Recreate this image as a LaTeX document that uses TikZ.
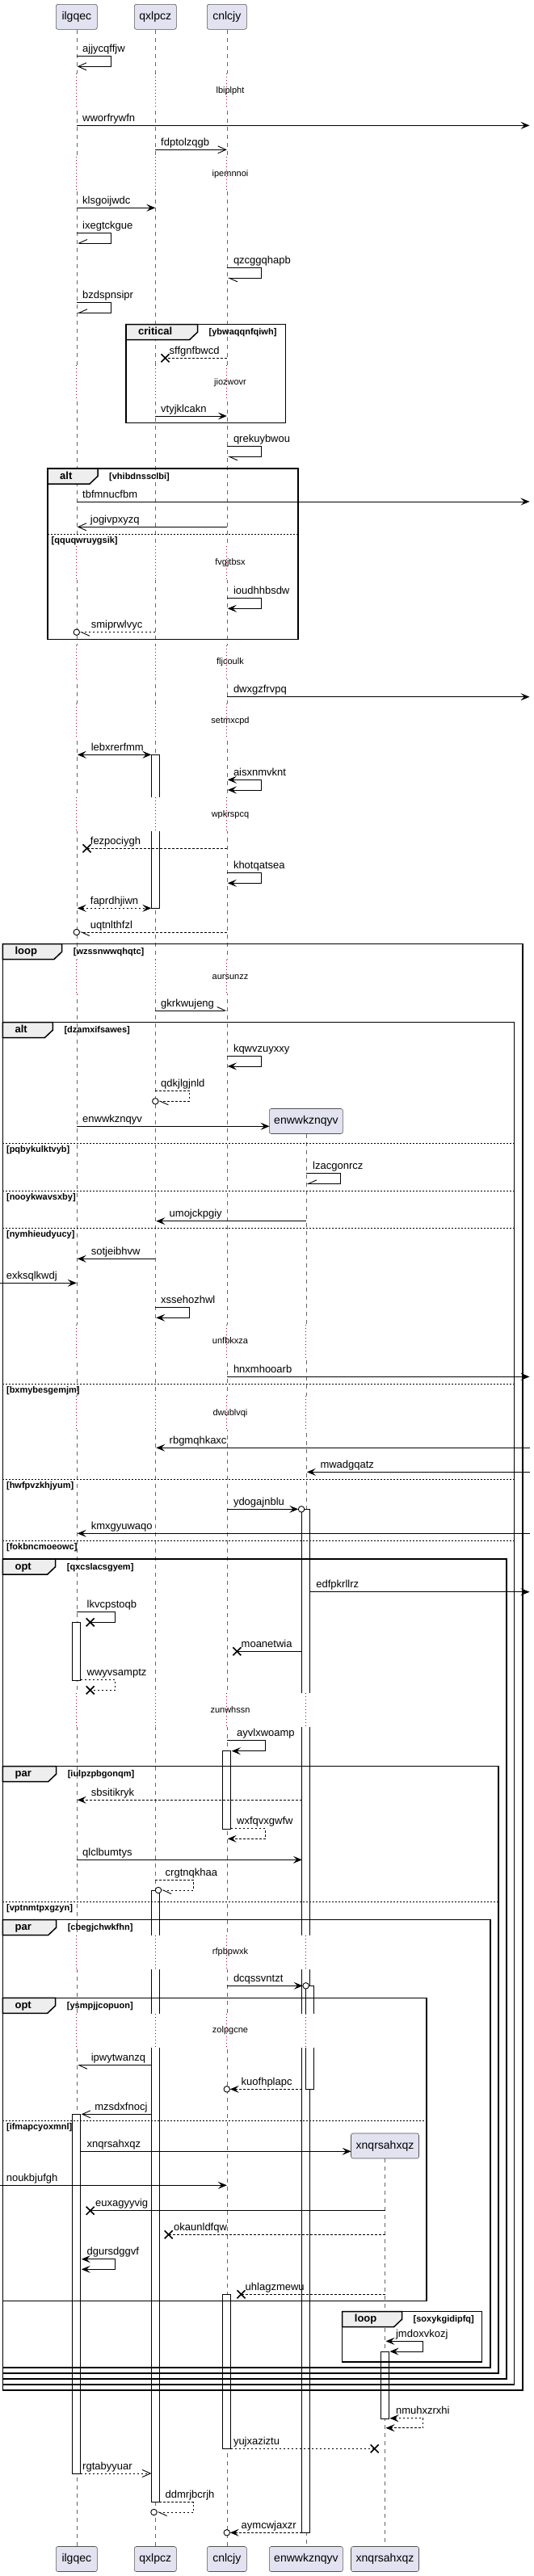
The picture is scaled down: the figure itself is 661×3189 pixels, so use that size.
\documentclass[tikz,border=0pt]{standalone}
\usepackage{fontspec}
\setmainfont{Liberation Sans}
\usetikzlibrary{arrows.meta}
\definecolor{partfill}{HTML}{E2E2F0}
\definecolor{partline}{HTML}{181818}
\definecolor{tabfill}{HTML}{EEEEEE}
\definecolor{delayc}{HTML}{A80036}
\tikzset{
  fh/.tip={Stealth[length=11pt,width=9pt,inset=4.5pt]},
  oh/.tip={Straight Barb[length=10pt,width=9pt]},
  hu/.tip={Straight Barb[length=10pt,width=9pt,harpoon]},
  hs/.tip={Straight Barb[length=10pt,width=9pt,harpoon,swap]},
  msgl/.style={draw=black,line width=0.9pt},
  dmsg/.style={msgl,dash pattern=on 2.5pt off 2.5pt},
  lifel/.style={draw=black!60,line width=0.6pt,dash pattern=on 5pt off 5pt},
  dotl/.style={draw=delayc,line width=1pt,dash pattern=on 1pt off 3pt},
  actbox/.style={draw=black,line width=0.9pt,fill=white},
  partbox/.style={draw=partline!75,line width=0.6pt,fill=partfill,rounded corners=2.5pt,inner sep=0pt,font=\fontsize{14}{16}\selectfont,minimum height=31pt},
  mlbl/.style={anchor=base west,inner sep=0pt,font=\fontsize{13}{15}\selectfont},
  dlbl/.style={inner sep=0pt,font=\fontsize{11}{13}\selectfont,text height=8pt,text depth=2.5pt},
  frm/.style={draw=black,line width=1.5pt},
  glbl/.style={anchor=west,inner sep=0pt,font=\bfseries\fontsize{11}{13}\selectfont,text height=8pt,text depth=2.5pt},
  tlbl/.style={anchor=west,inner sep=0pt,font=\bfseries\fontsize{13}{15}\selectfont,text height=9.5pt,text depth=3pt},
  xm/.style={line width=1.6pt},
  endcirc/.style={circle,draw=black,line width=0.9pt,fill=white,minimum size=7.5pt,inner sep=0pt},
  sepline/.style={draw=black,line width=0.8pt,dash pattern=on 2pt off 2pt},
}
\def\XA{94.8}
\def\XB{192.3}
\def\XC{280.8}
\def\XD{378.9}
\def\XE{476.5}
% message: name, x1, x2, y, style, label x, text
\newcommand\SqMsg[7]{%
  \coordinate (#1-s) at (#2,#4);
  \coordinate (#1-e) at (#3,#4);
  \draw[#5] (#1-s) -- (#1-e);
  \node[mlbl] (#1-l) at (#6,#4-5) {#7};
}
% self message: name, x1, xr, y1, y2, x2, style, label x, text
\newcommand\SqSelf[9]{%
  \coordinate (#1-s) at (#2,#4);
  \coordinate (#1-e) at (#6,#5);
  \draw[#7] (#1-s) -- (#3,#4) -- (#3,#5) -- (#1-e);
  \node[mlbl] (#1-l) at (#8,#4-5) {#9};
}
\newcommand\SqX[3]{%
  \coordinate (#1) at (#2,#3);
  \draw[xm] ([shift={(-5,-5)}]#1) -- ([shift={(5,5)}]#1) ([shift={(-5,5)}]#1) -- ([shift={(5,-5)}]#1);
}
% lost message: name, x1, xX, y, style, label x, text
\newcommand\SqLost[7]{%
  \coordinate (#1-s) at (#2,#4);
  \SqX{#1-x}{#3}{#4}
  \draw[#5] (#1-s) -- (#1-x);
  \node[mlbl] (#1-l) at (#6,#4-5) {#7};
}
% frame: name, x0, y0, x1, y1, tab end, label, guard
\newcommand\SqFrame[8]{%
  \draw[frm] (#2,#3) rectangle (#4,#5);
  \draw[frm,fill=tabfill] (#2,#3) -- (#6,#3) -- (#6,#3+9.5) -- (#6-10,#3+19) -- (#2,#3+19) -- cycle;
  \node[tlbl] (#1-t) at (#2+15,#3+10) {#7};
  \node[glbl] (#1-g) at (#6+14,#3+10.5) {#8};
}
\newcommand\SqSep[5]{%
  \draw[sepline] (#2,#4) -- (#3,#4);
  \node[glbl] (#1) at (#2+4.5,#4+8.3) {#5};
}
\newcommand\SqDelay[4]{%
  \foreach \lx in {#4}{%
    \fill[white] (\lx-13,#2-21) rectangle (\lx+13,#2+21);
    \draw[dotl] (\lx,#2-21) -- (\lx,#2+21);
  }
  \node[dlbl] (#1) at (285,#2) {#3};
}
\begin{document}
\begin{tikzpicture}[x=1pt,y=-1pt]
\useasboundingbox (0,0) rectangle (661,3189);
\fill[white] (0,0) rectangle (661,3189);
% participants
\node[partbox,minimum width=51pt] (top-a) at (\XA,20.8) {ilgqec};
\node[partbox,minimum width=52pt] (top-b) at (\XB,20.8) {qxlpcz};
\node[partbox,minimum width=49pt] (top-c) at (\XC,20.8) {cnlcjy};
\node[partbox,minimum width=51pt] (bot-a) at (\XA,3168) {ilgqec};
\node[partbox,minimum width=52pt] (bot-b) at (\XB,3168) {qxlpcz};
\node[partbox,minimum width=49pt] (bot-c) at (\XC,3168) {cnlcjy};
\node[partbox,minimum width=91pt] (bot-d) at (\XD,3168) {enwwkznqyv};
\node[partbox,minimum width=84pt] (bot-e) at (\XE,3168) {xnqrsahxqz};
\node[partbox,minimum width=91pt] (cr-d) at (\XD,1388) {enwwkznqyv};
\node[partbox,minimum width=84pt] (cr-e) at (\XE,2656.5) {xnqrsahxqz};
% lifelines
\draw[lifel] (top-a.south) -- (bot-a.north);
\draw[lifel] (top-b.south) -- (bot-b.north);
\draw[lifel] (top-c.south) -- (bot-c.north);
\draw[lifel] (cr-d.south) -- (bot-d.north);
\draw[lifel] (cr-e.south) -- (bot-e.north);
% activations
\draw[actbox] (\XB-5,934.3) rectangle (\XB+5,1124.3);
\draw[actbox] (\XD-5,1868.3) rectangle (\XD+5,3135.3);
\draw[actbox] (\XA-5,2008.3) rectangle (\XA+5,2080.3);
\draw[actbox] (\XC-5,2167.7) rectangle (\XC+5,2264.3);
\draw[actbox] (\XB-5,2340) rectangle (\XB+5,3097.7);
\draw[actbox] (\XD,2458.3) rectangle (\XD+10,2586.3);
\draw[actbox] (\XA-5,2617.3) rectangle (\XA+5,3062);
\draw[actbox] (\XC-5,2840.3) rectangle (\XC+5,3031.3);
\draw[actbox] (\XE-5,2911) rectangle (\XE+5,2994.3);
% delays
\SqDelay{d1}{112.3}{lbiplpht}{\XA,\XB,\XC}
\SqDelay{d2}{215.3}{ipemnnoi}{\XA,\XB,\XC}
\SqDelay{d3}{473.3}{jiozwovr}{\XA,\XB,\XC}
\SqDelay{d4}{697}{fvgjtbsx}{\XA,\XB,\XC}
\SqDelay{d5}{820}{fljcoulk}{\XA,\XB,\XC}
\SqDelay{d6}{892.3}{setmxcpd}{\XA,\XB,\XC}
\SqDelay{d7}{1008.3}{wpkrspcq}{\XA,\XB,\XC}
\SqDelay{d8}{1209.3}{aursunzz}{\XA,\XB,\XC}
\SqDelay{d9}{1661}{unfbkxza}{\XA,\XB,\XC,\XD}
\SqDelay{d10}{1749.3}{dwublvqi}{\XA,\XB,\XC,\XD}
\SqDelay{d11}{2117.3}{zunwhssn}{\XA,\XB,\XC,\XD}
\SqDelay{d12}{2416.7}{rfpbpwxk}{\XA,\XB,\XC,\XD}
\SqDelay{d13}{2514}{zolpgcne}{\XA,\XB,\XC,\XD}
% frames
\SqFrame{f1}{156}{401.7}{353.3}{523.3}{244.5}{critical}{[ybwaqqnfqiwh]}
\SqFrame{f2}{59}{580}{368.9}{791.7}{121}{alt}{[vhibdnssclbi]}
\SqSep{s1}{59}{368.9}{661}{[qquqwruygsik]}
\SqFrame{f3}{3.4}{1168.7}{647.1}{2959}{76.7}{loop}{[wzssnwwqhqtc]}
\SqFrame{f4}{3.4}{1265.7}{636.6}{2952}{65.3}{alt}{[dzamxifsawes]}
\SqSep{s2}{3.4}{636.6}{1415}{[pqbykulktvyb]}
\SqSep{s3}{3.4}{636.6}{1474.3}{[nooykwavsxby]}
\SqSep{s4}{3.4}{636.6}{1520.3}{[nymhieudyucy]}
\SqSep{s5}{3.4}{636.6}{1713.3}{[bxmybesgemjm]}
\SqSep{s6}{3.4}{636.6}{1831}{[hwfpvzkhjyum]}
\SqSep{s7}{3.4}{636.6}{1907.3}{[fokbncmoeowc]}
\SqFrame{f5}{3.4}{1930}{626.9}{2945}{68.7}{opt}{[qxcslacsgyem]}
\SqFrame{f6}{3.4}{2186.7}{616.8}{2938}{69.6}{par}{[iulpzpbgonqm]}
\SqSep{s8}{3.4}{616.8}{2354}{[vptnmtpxgzyn]}
\SqFrame{f7}{3.4}{2376.7}{607}{2931}{69.6}{par}{[cbegjchwkfhn]}
\SqFrame{f8}{3.4}{2473.3}{528.2}{2848.3}{68.7}{opt}{[ysmpjjcopuon]}
\SqSep{s9}{3.4}{528.2}{2625.7}{[ifmapcyoxmnl]}
\SqFrame{f9}{423.7}{2861.7}{596.5}{2924}{497.5}{loop}{[soxykgidipfq]}
% messages
\SqSelf{m1}{\XA}{137.4}{69.3}{82.3}{\XA+1}{msgl,-oh}{102}{ajjycqffjw}
\SqMsg{m3}{\XA}{655.5}{155.3}{msgl,-fh}{102}{wworfrywfn}
\SqMsg{m4}{\XB}{\XC}{185.3}{msgl,-oh}{199}{fdptolzqgb}
\SqMsg{m6}{\XA}{\XB}{257.3}{msgl,-fh}{102}{klsgoijwdc}
\SqSelf{m7}{\XA}{137.4}{288.3}{301}{\XA+1}{msgl,-hs}{102}{ixegtckgue}
\SqSelf{m8}{\XC}{323.7}{331.3}{344.3}{\XC+1}{msgl,-hu}{288.8}{qzcggqhapb}
\SqSelf{m9}{\XA}{137.4}{374.3}{387.3}{\XA+1}{msgl,-hs}{102}{bzdspnsipr}
\SqLost{m11}{\XC}{204.5}{443.3}{dmsg}{209.5}{sffgnfbwcd}
\SqMsg{m13}{\XB}{\XC}{515}{msgl,-fh}{199}{vtyjklcakn}
\SqSelf{m14}{\XC}{323.7}{552.3}{565.3}{\XC+1}{msgl,-hu}{288.8}{qrekuybwou}
\SqMsg{m16}{\XA}{655.5}{621}{msgl,-fh}{102}{tbfmnucfbm}
\SqMsg{m17}{\XC}{\XA+1}{652.3}{msgl,-oh}{111.7}{jogivpxyzq}
\SqSelf{m19}{\XC}{323.7}{740}{753.3}{\XC+1}{msgl,-fh}{288.8}{ioudhhbsdw}
\SqMsg{m20}{\XB}{\XA+4}{782.7}{dmsg,-hu}{112.6}{smiprwlvyc}
\node[endcirc] (c20) at (\XA,782.7) {};
\SqMsg{m22}{\XC}{655.5}{862.7}{msgl,-fh}{288.8}{dwxgzfrvpq}
\SqMsg{m24}{\XA+1}{\XB-5}{934.3}{msgl,fh-fh}{112.6}{lebxrerfmm}
\SqSelf{m25}{\XC+1}{323.7}{965.3}{978}{\XC+1}{msgl,fh-fh}{288.8}{aisxnmvknt}
\SqLost{m27}{\XC}{107.5}{1050.3}{dmsg}{111.7}{fezpociygh}
\SqSelf{m28}{\XC}{323.7}{1080.3}{1093.3}{\XC+1}{msgl,-fh}{288.8}{khotqatsea}
\SqMsg{m29}{\XA+1}{\XB-5}{1124.3}{dmsg,fh-fh}{111.7}{faprdhjiwn}
\SqMsg{m30}{\XC}{\XA+4}{1154}{dmsg,-hu}{111.7}{uqtnlthfzl}
\node[endcirc] (c30) at (\XA,1154) {};
\SqMsg{m33}{\XB}{\XC}{1251}{msgl,-hu}{199}{gkrkwujeng}
\SqSelf{m35}{\XC}{323.7}{1307.3}{1320}{\XC+1}{msgl,-fh}{288.8}{kqwvzuyxxy}
\SqSelf{m36}{\XB}{234.4}{1350}{1363.3}{\XB+4}{dmsg,-hu}{199}{qdkjlgjnld}
\node[endcirc] (c36) at (\XB,1363.3) {};
\SqMsg{m37}{\XA}{333.5}{1394.3}{msgl,-fh}{102}{enwwkznqyv}
\SqSelf{m39}{\XD}{421}{1452.7}{1465.3}{\XD+1}{msgl,-hs}{387}{lzacgonrcz}
\SqMsg{m41}{\XD}{\XB+1}{1511.7}{msgl,-fh}{209.5}{umojckpgiy}
\SqMsg{m43}{\XB}{\XA+1}{1558.3}{msgl,-fh}{112.6}{sotjeibhvw}
\SqMsg{m44}{0}{\XA}{1588.3}{msgl,-fh}{7.6}{exksqlkwdj}
\SqSelf{m45}{\XB}{234.4}{1618.7}{1631.3}{\XB+1}{msgl,-fh}{199}{xssehozhwl}
\SqMsg{m47}{\XC}{655.5}{1704.3}{msgl,-fh}{288.8}{hnxmhooarb}
\SqMsg{m50}{655.5}{\XB+1}{1792.3}{msgl,-fh}{209.5}{rbgmqhkaxc}
\SqMsg{m51}{655.5}{\XD+1}{1822.3}{msgl,-fh}{396.3}{mwadgqatz}
\SqMsg{m53}{\XC}{369.2}{1868.3}{msgl,-fh}{288.8}{ydogajnblu}
\node[endcirc] (c53) at (373.1,1868.3) {};
\SqMsg{m54}{655.5}{\XA+1}{1898.3}{msgl,-fh}{112.6}{kmxgyuwaqo}
\SqMsg{m57}{\XD+5}{655.5}{1970.7}{msgl,-fh}{391.2}{edfpkrllrz}
\SqSelf{m58}{\XA}{142.5}{1995.3}{2008.3}{111.7}{msgl}{107.5}{lkvcpstoqb}
\SqX{x58}{111.7}{2008.3}
\SqLost{m59}{\XD-5}{293.4}{2044.3}{msgl}{298.5}{moanetwia}
\SqSelf{m60}{\XA+5}{142.5}{2079.3}{2092.3}{111.7}{dmsg}{107.5}{wwyvsamptz}
\SqX{x60}{111.7}{2092.3}
\SqSelf{m62}{\XC}{328.4}{2154.3}{2167.7}{\XC+6}{msgl,-fh}{293}{ayvlxwoamp}
\SqMsg{m64}{\XD-5}{\XA+1}{2228.3}{dmsg,-fh}{112.6}{sbsitikryk}
\SqSelf{m65}{\XC+5}{328.4}{2263.7}{2276.3}{\XC+1}{dmsg,-fh}{293}{wxfqvxgwfw}
\SqMsg{m66}{\XA}{\XD-5}{2302.3}{msgl,-fh}{102}{qlclbumtys}
\SqSelf{m67}{\XB}{239.5}{2327.3}{2340}{200}{dmsg,-hu}{204.5}{crgtnqkhaa}
\node[endcirc] (c67) at (196,2340) {};
\SqMsg{m71}{\XC}{374.7}{2458.3}{msgl,-fh}{288.8}{dcqssvntzt}
\node[endcirc] (c71) at (378.6,2458.3) {};
\SqMsg{m74}{\XB-5}{\XA+1}{2556.7}{msgl,-hu}{112.6}{ipwytwanzq}
\SqMsg{m75}{\XD-5}{\XC+4}{2586.3}{dmsg,-fh}{298.5}{kuofhplapc}
\node[endcirc] (c75) at (\XC,2586.3) {};
\SqMsg{m76}{\XB-5}{\XA+6}{2617.3}{msgl,-oh}{117.2}{mzsdxfnocj}
\SqMsg{m78}{\XA+5}{434.6}{2663.3}{msgl,-fh}{107.5}{xnqrsahxqz}
\SqMsg{m79}{0}{\XC}{2705.3}{msgl,-fh}{7.6}{noukbjufgh}
\SqLost{m80}{\XE}{111.7}{2736.7}{msgl}{118}{euxagyyvig}
\SqLost{m81}{\XE}{208.7}{2766.3}{dmsg}{215}{okaunldfqw}
\SqSelf{m82}{\XA+6}{142.5}{2796.7}{2809.3}{\XA+6}{msgl,fh-fh}{107.5}{dgursdggvf}
\SqLost{m83}{\XE}{298.5}{2840.3}{dmsg}{303.5}{uhlagzmewu}
\SqSelf{m86}{\XE+1}{523.6}{2898.3}{2911}{\XE+6}{msgl,fh-fh}{489.9}{jmdoxvkozj}
\SqSelf{m88}{\XE+6}{523.6}{2993.7}{3005.7}{\XE+1}{dmsg,fh-fh}{489.9}{nmuhxzrxhi}
\SqLost{m89}{\XC+5}{463.7}{3031.3}{dmsg}{288.8}{yujxaziztu}
\SqMsg{m90}{\XA+5}{\XB-5}{3062}{dmsg,-oh}{102}{rgtabyyuar}
\SqSelf{m91}{\XB+5}{239.5}{3097.7}{3110}{194.5}{dmsg,-hu}{204.5}{ddmrjbcrjh}
\node[endcirc] (c91) at (190.5,3110) {};
\SqMsg{m92}{\XD-5}{\XC+4}{3135.3}{dmsg,-fh}{298.5}{aymcwjaxzr}
\node[endcirc] (c92) at (\XC,3135.3) {};
\end{tikzpicture}
\end{document}
